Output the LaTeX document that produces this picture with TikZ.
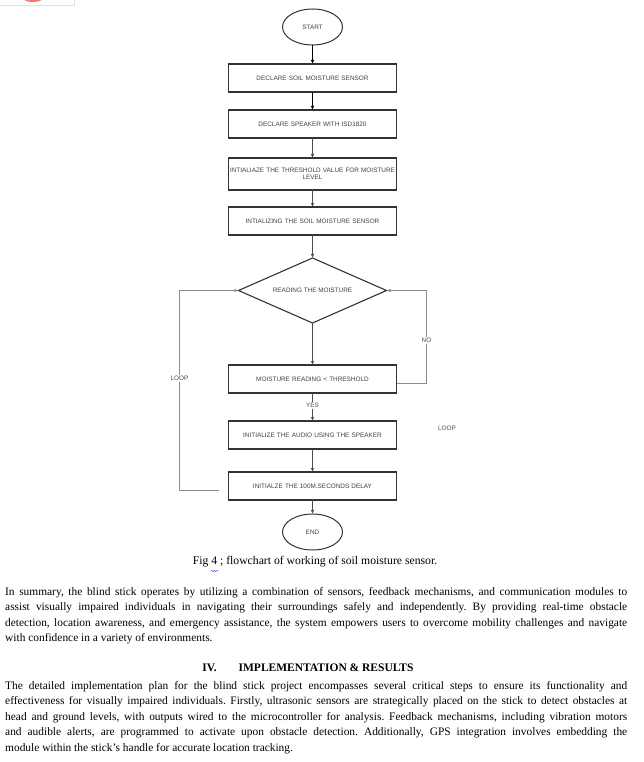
\documentclass[tikz,border=0pt]{standalone}
\usepackage{fontspec}
\setmainfont{Liberation Serif}
\newfontfamily\chartfont{Liberation Sans}
\usetikzlibrary{
    positioning,
    shapes.geometric,
    arrows.meta,
    decorations.pathmorphing
    }

\begin{document}
\begin{tikzpicture}[x=1pt, y=-1pt]
\tikzset{stepbox/.style =
        {
            rectangle,
            draw=black!80,
            line width=1.1pt,
            minimum width=168pt,
            minimum height=28pt,
            inner sep=1pt,
            outer sep=0pt,
            text width=166pt,
            align=center,
            font=\chartfont\fontsize{6.4}{7.4}\selectfont,
            text=black!75
        }
}

\tikzset{terminal/.style =
        {
            stepbox,
            ellipse,
            line width=1pt,
            minimum width=60pt,
            minimum height=36pt,
            text width=,
            inner sep=0pt
        }
}

\tikzset{decision/.style =
        {
            stepbox,
            diamond,
            aspect=2.27,
            minimum width=148pt,
            minimum height=65pt,
            text width=,
            inner sep=0pt
        }
}

\tikzset{flow/.style = {
            line width=0.9pt,
            black!70,
            -{Latex[length=4pt, width=3.5pt]}
        }
}

\tikzset{mainflow/.style = {
            flow,
            line width=1.4pt,
            black
        }
}

\tikzset{loopline/.style = {
            flow,
            line width=0.8pt,
            black!45
        }
}

\tikzset{edgelabel/.style = {
            font=\chartfont\fontsize{6.4}{7.4}\selectfont,
            text=black!70,
            fill=white,
            inner sep=1pt
        }
}

\tikzset{bodytext/.style = {
            anchor=north west,
            text width=622pt,
            align=justify,
            inner sep=0pt,
            font=\frenchspacing\fontsize{11.4}{15.5}\selectfont
        }
}

\useasboundingbox (0,0) rectangle (644,762);

% corner of a cut picture
\fill[red!55] (33,-1) ellipse [x radius=9, y radius=3];
\draw[black!12] (0,5) -- (74,5) -- (74,0);

\node[terminal] (start) at (312.5,27) {START};
\node[stepbox, below=19pt of start] (declsensor) {DECLARE SOIL MOISTURE SENSOR};
\node[stepbox, below=18pt of declsensor] (declspeaker) {DECLARE SPEAKER WITH ISD1820};
\node[stepbox, below=20pt of declspeaker, minimum height=32pt] (threshold) {INTIALIAZE THE THRESHOLD VALUE FOR MOISTURE\\LEVEL};
\node[stepbox, below=17pt of threshold] (initsensor) {INTIALIZING THE SOIL MOISTURE SENSOR};
\node[decision, below=23pt of initsensor] (reading) {READING THE MOISTURE};
\node[stepbox, below=42pt of reading] (check) {MOISTURE READING < THRESHOLD};
\node[stepbox, below=28pt of check] (audio) {INITIALIZE THE AUDIO USING THE SPEAKER};
\node[stepbox, below=23pt of audio] (delay) {INITIALZE THE 100M.SECONDS DELAY};
\node[terminal, below=14pt of delay] (end) {END};

\draw[mainflow] (start) -- (declsensor);
\draw[mainflow] (declsensor) -- (declspeaker);
\draw[flow] (declspeaker) -- (threshold);
\draw[flow] (threshold) -- (initsensor);
\draw[flow] (initsensor) -- (reading);
\draw[flow] (reading) -- (check);
\draw[flow] (check) -- node[edgelabel, pos=0.45] {YES} (audio);
\draw[flow] (audio) -- (delay);
\draw[flow] (delay) -- (end);

% the two loops back to the reading
\coordinate (loopstart) at ([xshift=-10pt, yshift=-4.5pt]delay.west);
\draw[loopline] ([yshift=-4pt]check.east) -- ++(30pt,0)
    |- node[edgelabel, pos=0.23] {NO} (reading.east);
\draw[loopline] (loopstart) -- ++(-39pt,0)
    |- node[edgelabel, pos=0.28] {LOOP} (reading.west);
\node[edgelabel, fill=none] (looptag) at (447,428) {LOOP};

\node[font=\fontsize{11.7}{13}\selectfont] (caption) at (315,562)
    {Fig 4 ; flowchart of working of soil moisture sensor.};
\draw[blue!75, decorate, decoration={snake, amplitude=0.7pt, segment length=2.6pt}]
    (211,571) -- (218,571);

\node[bodytext] (summary) at (5,587)
    {In summary, the blind stick operates by utilizing a combination of sensors, feedback mechanisms, and communication modules to\linebreak
    assist visually impaired individuals in navigating their surroundings safely and independently. By providing real-time obstacle\linebreak
    detection, location awareness, and emergency assistance, the system empowers users to overcome mobility challenges and navigate\linebreak
    with confidence in a variety of environments.};

\node[font=\bfseries\fontsize{11.5}{13}\selectfont] (heading) at (308,668)
    {IV.\hspace{22pt}IMPLEMENTATION \& RESULTS};

\node[bodytext] (plan) at (5,681)
    {The detailed implementation plan for the blind stick project encompasses several critical steps to ensure its functionality and\linebreak
    effectiveness for visually impaired individuals. Firstly, ultrasonic sensors are strategically placed on the stick to detect obstacles at\linebreak
    head and ground levels, with outputs wired to the microcontroller for analysis. Feedback mechanisms, including vibration motors\linebreak
    and audible alerts, are programmed to activate upon obstacle detection. Additionally, GPS integration involves embedding the\linebreak
    module within the stick's handle for accurate location tracking.};

\end{tikzpicture}
\end{document}
